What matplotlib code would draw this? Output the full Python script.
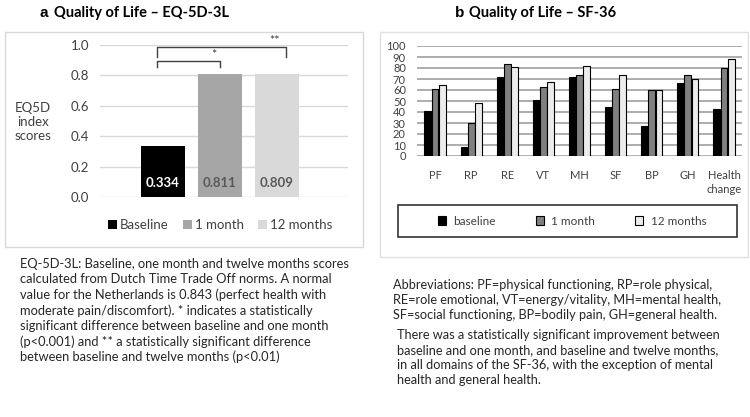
import matplotlib.pyplot as plt
from matplotlib.patches import Rectangle, Patch
import numpy as np

plt.rcParams['font.family'] = ['Lato', 'DejaVu Sans']

# panel a data
eq_groups = ["Baseline", "1 month", "12 months"]
eq_scores = [0.334, 0.811, 0.809]
eq_colors = ["#000000", "#a6a6a6", "#d9d9d9"]
eq_label_colors = ["white", "#595959", "#595959"]

# panel b data
sf_domains = ["PF", "RP", "RE", "VT", "MH", "SF", "BP", "GH", "Health\nchange"]
sf_baseline = [41, 8, 72, 51, 72, 45, 27, 66, 43]
sf_1month = [61, 30, 84, 63, 74, 61, 60, 74, 80]
sf_12months = [65, 48, 81, 67, 82, 74, 60, 70, 88]
sf_series = ["baseline", "1 month", "12 months"]
sf_colors = ["#000000", "#808080", "#ececec"]

W, H = 750, 417


def fx(px):
    return px / W


def fy(py):
    return 1 - py / H


fig = plt.figure(figsize=(7.5, 4.17), dpi=100)

# frames
fig.patches.append(Rectangle((fx(5), fy(247)), fx(358), (247 - 32) / H, transform=fig.transFigure,
                             fill=False, edgecolor="#d9d9d9", lw=1))
fig.patches.append(Rectangle((fx(380), fy(257)), fx(368), (257 - 32) / H, transform=fig.transFigure,
                             fill=False, edgecolor="#e0e0e0", lw=1))

# titles
fig.text(fx(40), fy(13), "a", fontsize=11, fontweight="bold", va="center", family=["Liberation Sans"])
fig.text(fx(54), fy(13), "Quality of Life \u2013 EQ-5D-3L", fontsize=10.5, fontweight="bold", va="center")
fig.text(fx(455), fy(13), "b", fontsize=11, fontweight="bold", va="center", family=["Liberation Sans"])
fig.text(fx(469), fy(13), "Quality of Life \u2013 SF-36", fontsize=10.5, fontweight="bold", va="center")

# ---- panel a ----
ax1 = fig.add_axes([fx(100), fy(197), 248 / W, 152 / H])
x1 = np.arange(len(eq_groups))
ax1.bar(x1, eq_scores, width=0.77, color=eq_colors, zorder=2)
for xi, v, c in zip(x1, eq_scores, eq_label_colors):
    ax1.text(xi, 0.09, f"{v:.3f}", ha="center", va="center", color=c, fontsize=9.5, fontweight="bold", zorder=3)
ax1.set_xlim(-1.1, 3.25)
ax1.set_ylim(0, 1.0)
ax1.set_yticks(np.arange(0, 1.01, 0.2))
ax1.set_yticklabels([f"{t:.1f}" for t in np.arange(0, 1.01, 0.2)])
ax1.set_xticks([])
ax1.grid(axis="y", color="#d9d9d9", lw=1, zorder=0)
ax1.tick_params(axis="y", length=0, pad=8, labelsize=9.5, labelcolor="#404040")
for s in ax1.spines.values():
    s.set_visible(False)
ax1.set_facecolor("none")
fig.text(fx(33), fy(122), "EQ5D\nindex\nscores", ha="center", va="center", fontsize=9.5, color="#404040",
         linespacing=1.15)

# significance brackets
br = "#404040"
ax1.plot([-0.1, -0.1, 2.17, 2.17], [0.92, 0.987, 0.987, 0.92], color=br, lw=1, clip_on=False)
ax1.text(1.96, 0.985, "**", ha="center", va="bottom", fontsize=9, color=br)
ax1.plot([-0.1, -0.1, 1.01, 1.01], [0.855, 0.895, 0.895, 0.855], color=br, lw=1, clip_on=False)
ax1.text(0.89, 0.893, "*", ha="center", va="bottom", fontsize=9, color=br)

handles_a = [Patch(facecolor=c, edgecolor="none", label=g) for c, g in zip(eq_colors, eq_groups)]
fig.legend(handles=handles_a, loc="center", bbox_to_anchor=(fx(220), fy(225)), ncol=3, frameon=False,
           fontsize=9.5, handlelength=0.7, handleheight=0.7, handletextpad=0.2, columnspacing=1.1,
           labelcolor="#404040")

# ---- panel b ----
ax2 = fig.add_axes([fx(417), fy(156), 325 / W, 110 / H])
x2 = np.arange(len(sf_domains))
bw = 0.19
for off, vals, c in zip([-0.2, 0, 0.2], [sf_baseline, sf_1month, sf_12months], sf_colors):
    ax2.bar(x2 + off, vals, width=bw, color=c, edgecolor="black", lw=0.8, zorder=2)
ax2.set_xlim(-0.5, 8.5)
ax2.set_ylim(0, 100)
ax2.set_yticks(range(0, 101, 10))
ax2.set_xticks(x2)
ax2.set_xticklabels(sf_domains, fontsize=8, color="#404040", linespacing=1.3)
ax2.tick_params(axis="both", length=0, labelsize=8, labelcolor="#404040")
ax2.tick_params(axis="x", pad=10)
ax2.tick_params(axis="y", pad=8)
ax2.grid(axis="y", color="#a0a0a0", lw=1.2, zorder=0)
for s in ax2.spines.values():
    s.set_visible(False)
ax2.set_facecolor("none")

fig.patches.append(Rectangle((fx(398), fy(237)), 339 / W, 32 / H, transform=fig.transFigure,
                             fill=False, edgecolor="#333333", lw=1.2))
handles_b = [Patch(facecolor=c, edgecolor="black", lw=0.8, label=s) for c, s in zip(sf_colors, sf_series)]
fig.legend(handles=handles_b, loc="center", bbox_to_anchor=(fx(572), fy(221)), ncol=3, frameon=False,
           fontsize=8.5, handlelength=0.7, handleheight=0.7, handletextpad=0.6, columnspacing=3.4,
           labelcolor="#404040")

# notes
note_a = ("EQ-5D-3L: Baseline, one month and twelve months scores\n"
          "calculated from Dutch Time Trade Off norms. A normal\n"
          "value for the Netherlands is 0.843 (perfect health with\n"
          "moderate pain/discomfort). * indicates a statistically\n"
          "significant difference between baseline and one month\n"
          "(p<0.001) and ** a statistically significant difference\n"
          "between baseline and twelve months (p<0.01)")
fig.text(fx(20), fy(258), note_a, ha="left", va="top", fontsize=9.3, color="#262626", linespacing=1.31)

note_b1 = ("Abbreviations: PF=physical functioning, RP=role physical,\n"
           "RE=role emotional, VT=energy/vitality, MH=mental health,\n"
           "SF=social functioning, BP=bodily pain, GH=general health.")
fig.text(fx(393), fy(279), note_b1, ha="left", va="top", fontsize=9.2, color="#262626", linespacing=1.3)

note_b2 = ("There was a statistically significant improvement between\n"
           "baseline and one month, and baseline and twelve months,\n"
           "in all domains of the SF-36, with the exception of mental\n"
           "health and general health.")
fig.text(fx(397), fy(329), note_b2, ha="left", va="top", fontsize=9.2, color="#262626", linespacing=1.3)

fig.savefig("out.png", dpi=100)
